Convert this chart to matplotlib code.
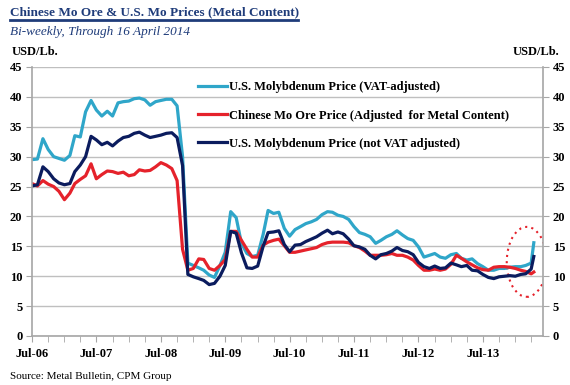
import numpy as np
import pandas as pd
import matplotlib
matplotlib.use('Agg')
import matplotlib.pyplot as plt
import matplotlib.dates as mdates
from matplotlib.patches import Ellipse
from matplotlib.lines import Line2D

plt.rcParams['font.family'] = 'Liberation Serif'

# monthly readings Jul-06 .. Apr-14, plus the last bi-weekly print (16 Apr 2014)
dates = list(pd.date_range('2006-07-01', '2014-04-01', freq='MS')) + [pd.Timestamp('2014-04-16')]

us_vat = [29.5, 29.6, 33.0, 31.2, 30.0, 29.7, 29.4, 30.2, 33.5, 33.3,
          37.5, 39.4, 37.8, 36.8, 37.6, 36.8, 39.0, 39.2, 39.3, 39.7,
          39.8, 39.5, 38.6, 39.2, 39.4, 39.6, 39.6, 38.5, 30.0, 12.2,
          11.8, 11.4, 11.0, 10.2, 9.8, 11.8, 14.0, 20.8, 19.8, 15.5,
          13.8, 13.3, 13.5, 17.0, 21.0, 20.5, 20.7, 18.0, 16.7, 17.8,
          18.3, 18.8, 19.1, 19.5, 20.3, 20.8, 20.7, 20.2, 20.0, 19.5,
          18.3, 17.3, 17.0, 16.6, 15.5, 16.0, 16.6, 17.0, 17.6, 16.9,
          16.3, 16.0, 14.9, 13.2, 13.5, 13.8, 13.2, 13.0, 13.6, 13.8,
          13.0, 12.7, 12.9, 12.1, 11.6, 11.0, 11.0, 11.3, 11.3, 11.5,
          11.6, 11.6, 11.8, 12.2, 15.6]

china_ore = [25.5, 25.1, 26.0, 25.4, 25.0, 24.2, 22.8, 23.9, 25.5, 26.2,
             26.8, 28.8, 26.3, 27.0, 27.6, 27.5, 27.2, 27.4, 26.8, 27.0,
             27.8, 27.6, 27.7, 28.3, 29.0, 28.6, 28.0, 26.0, 14.5, 11.0,
             11.3, 12.9, 12.8, 11.3, 11.0, 11.8, 12.8, 17.5, 17.5, 16.0,
             14.5, 13.2, 13.2, 15.2, 15.7, 16.0, 16.2, 15.1, 14.0, 14.0,
             14.2, 14.4, 14.6, 14.8, 15.3, 15.6, 15.7, 15.7, 15.7, 15.6,
             15.1, 14.8, 14.2, 13.5, 13.5, 13.5, 13.6, 13.8, 13.5, 13.5,
             13.2, 12.7, 11.8, 11.0, 11.0, 11.2, 11.0, 11.2, 12.0, 13.5,
             13.0, 12.4, 11.9, 11.4, 11.1, 11.0, 11.5, 11.6, 11.6, 11.5,
             11.3, 11.0, 10.8, 10.4, 10.7]

us_novat = [25.1, 25.3, 28.3, 27.5, 26.3, 25.6, 25.3, 25.5, 27.5, 28.6,
            30.0, 33.4, 32.8, 32.0, 32.4, 31.8, 32.6, 33.2, 33.4, 33.9,
            34.1, 33.6, 33.2, 33.4, 33.6, 33.9, 34.0, 33.2, 28.5, 10.3,
            9.9, 9.6, 9.3, 8.6, 8.8, 10.0, 11.8, 17.5, 17.2, 13.9,
            11.4, 11.3, 11.7, 15.0, 17.3, 17.4, 17.6, 15.3, 14.1, 15.2,
            15.3, 15.8, 16.2, 16.6, 17.2, 17.7, 17.1, 17.4, 17.1, 16.2,
            15.1, 14.9, 14.5, 13.5, 12.9, 13.6, 13.8, 14.2, 14.8, 14.3,
            14.1, 13.6, 12.3, 11.6, 11.3, 11.7, 11.3, 11.4, 12.2, 11.9,
            11.6, 11.8, 11.0, 10.9, 10.3, 9.8, 9.6, 9.9, 10.0, 10.1,
            10.0, 10.3, 10.4, 11.2, 13.3]

labels = ['U.S. Molybdenum Price (VAT-adjusted)',
          'Chinese Mo Ore Price (Adjusted  for Metal Content)',
          'U.S. Molybdenum Price (not VAT adjusted)']
colors = ['#2FA6C9', '#E5222B', '#0B1C5E']

title_blue = '#1F3C7A'

fig = plt.figure(figsize=(5.7, 3.85), dpi=100)
ax = fig.add_axes([0.0561, 0.1273, 0.8965, 0.6987])

for ser, lab, c in zip([us_vat, china_ore, us_novat], labels, colors):
    ax.plot(dates, ser, color=c, lw=2.3, label=lab)

# dotted circle around the latest move
ell = Ellipse((mdates.date2num(pd.Timestamp('2014-03-07')), 12.4), width=227, height=11.7,
              facecolor='none', edgecolor='#E5222B', lw=1.5, linestyle=(0, (1, 2)))
ax.add_patch(ell)

ax.set_xlim(pd.Timestamp('2006-07-01'), pd.Timestamp('2014-06-07'))
ax.set_ylim(0, 45)
ax.set_yticks(np.arange(0, 46, 5))
ax.xaxis.set_major_locator(mdates.MonthLocator(bymonth=7))
ax.xaxis.set_minor_locator(mdates.MonthLocator(bymonth=[1, 4, 10]))
ax.xaxis.set_major_formatter(mdates.DateFormatter('%b-%y'))

ax.grid(axis='y', color='#BFBFBF', lw=1)
ax.set_axisbelow(True)
for s in ['left', 'right', 'bottom']:
    ax.spines[s].set_color('#A6A6A6')
    ax.spines[s].set_linewidth(1.2)
ax.spines['top'].set_visible(False)

ax.tick_params(axis='y', which='both', left=True, right=True, labelleft=True, labelright=True,
               direction='out', length=4, color='#A6A6A6', labelsize=9, pad=3)
ax.tick_params(axis='x', which='both', direction='out', length=4, color='#A6A6A6',
               labelsize=9, pad=5)
for t in ax.get_xticklabels():
    t.set_fontweight('bold')
for tk in ax.yaxis.get_major_ticks():
    tk.label1.set_fontweight('bold')
    tk.label2.set_fontweight('bold')

leg = ax.legend(loc='upper left', bbox_to_anchor=(0.313, 0.97), frameon=False,
                handlelength=2.3, handletextpad=0.15, labelspacing=1.3, borderpad=0,
                prop={'family': 'Liberation Serif', 'weight': 'bold', 'size': 9})

fig.text(0.0175, 0.969, 'Chinese Mo Ore & U.S. Mo Prices (Metal Content)', fontsize=9.5,
         fontweight='bold', color=title_blue, va='center', ha='left')
fig.add_artist(Line2D([0.0175, 0.522], [0.948, 0.948], transform=fig.transFigure,
                      color=title_blue, lw=2))
fig.text(0.0175, 0.917, 'Bi-weekly, Through 16 April 2014', fontsize=9.5, style='italic',
         color=title_blue, va='center', ha='left')
fig.text(0.021, 0.865, 'USD/Lb.', fontsize=9, fontweight='bold', va='center', ha='left')
fig.text(0.982, 0.865, 'USD/Lb.', fontsize=9, fontweight='bold', va='center', ha='right')
fig.text(0.0175, 0.021, 'Source: Metal Bulletin, CPM Group', fontsize=8, va='center', ha='left')

fig.savefig('out.png', dpi=100)
